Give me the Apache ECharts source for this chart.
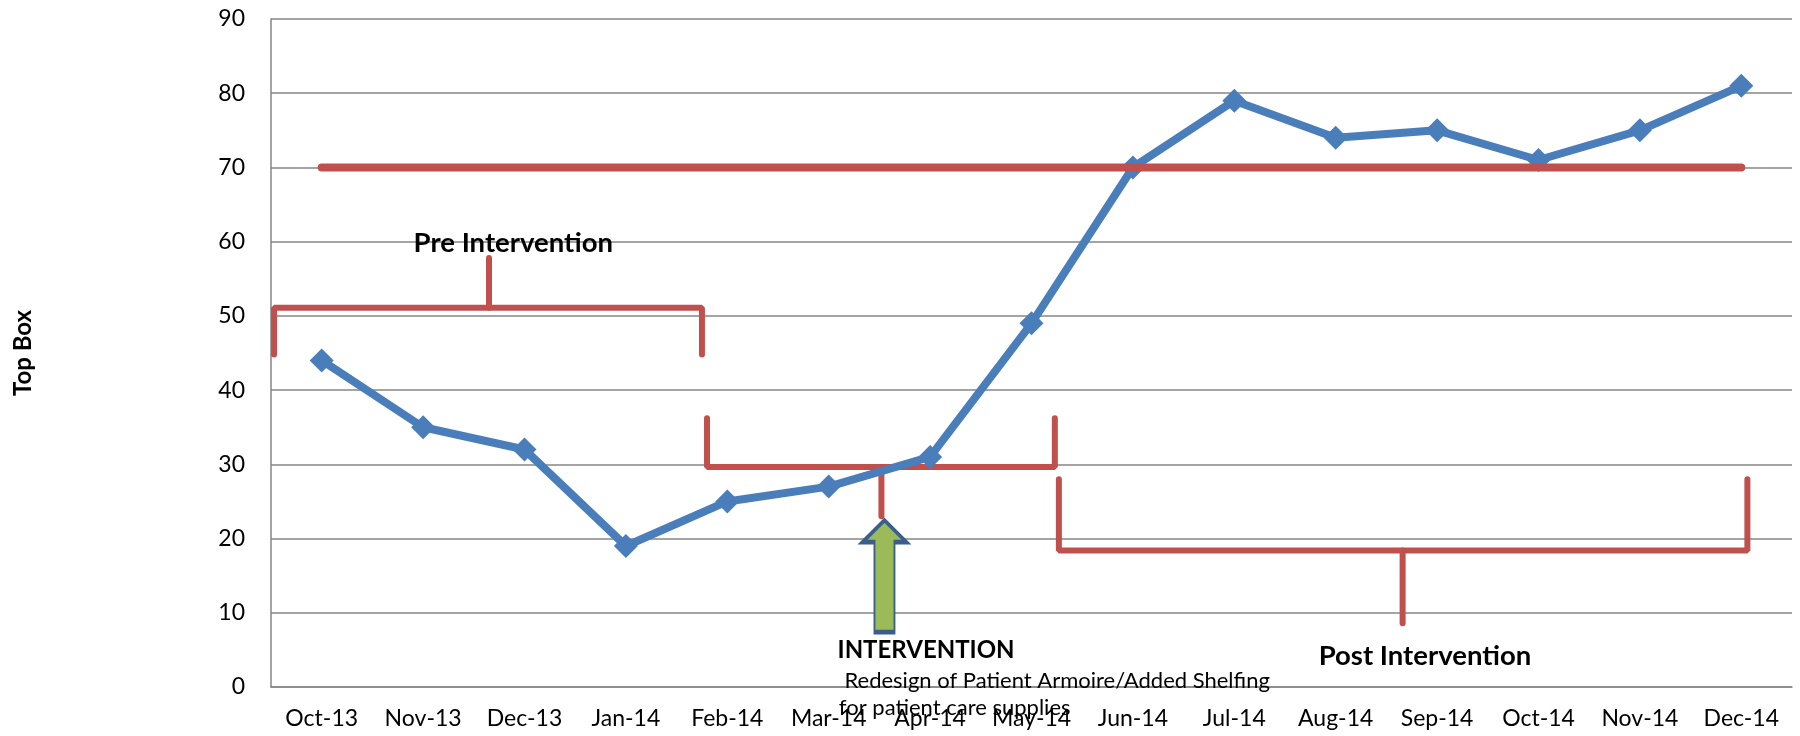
<!DOCTYPE html>
<html>
<head>
<meta charset="utf-8">
<script src="https://cdn.jsdelivr.net/npm/echarts@6/dist/echarts.min.js"></script>
<style>
  html, body { margin: 0; padding: 0; background: #fff; }
  #chart_id { width: 1800px; height: 736px; }
</style>
</head>
<body>
<div id="chart_id"></div>
<script>
// categories + values
const months = ['Oct-13', 'Nov-13', 'Dec-13', 'Jan-14', 'Feb-14', 'Mar-14', 'Apr-14', 'May-14',
  'Jun-14', 'Jul-14', 'Aug-14', 'Sep-14', 'Oct-14', 'Nov-14', 'Dec-14'];
const topBox = [44, 35, 32, 19, 25, 27, 31, 49, 70, 79, 74, 75, 71, 75, 81];
const target = [70, 70, 70, 70, 70, 70, 70, 70, 70, 70, 70, 70, 70, 70, 70];
const yTicks = [0, 10, 20, 30, 40, 50, 60, 70, 80, 90];

// brackets, in data units (x = category index)
const preBracket = [[-0.47, 44.8], [-0.47, 51.1], [3.75, 51.1], [3.75, 44.8]];
const preTick = [[1.65, 51.1], [1.65, 57.8]];
const midBracket = [[3.80, 36.2], [3.80, 29.65], [7.23, 29.65], [7.23, 36.2]];
const midTick = [[5.52, 29.65], [5.52, 23.0]];
const postBracket = [[7.27, 28.0], [7.27, 18.4], [14.06, 18.4], [14.06, 28.0]];
const postTick = [[10.66, 18.4], [10.66, 8.6]];

// intervention arrow
const arrowAt = [5.55, 14.93];

// annotation texts
const notes = [
  { text: 'Pre Intervention', at: [1.89, 59.8], size: 27.5 },
  { text: 'INTERVENTION', at: [5.96, 4.95], size: 24 },
  { text: 'Post Intervention', at: [10.88, 4.14], size: 27.5 },
];
const noteDetail = { text: ' Redesign of Patient Armoire/Added Shelfing\nfor patient care supplies', at: [5.10, 2.6] };

const FONT = 'Lato, "Open Sans", sans-serif';
const RED = '#C0504D';
const BLUE = '#4A7EBB';

const myChart = echarts.init(document.getElementById('chart_id'));

const bracketSeries = (data) => ({
  type: 'line',
  xAxisIndex: 1,
  data: data,
  symbol: 'none',
  silent: true,
  clip: false,
  lineStyle: {
    color: RED,
    width: 6,
    cap: 'round',
  },
  z: 2,
});

const option = {
  animation: false,
  textStyle: { fontFamily: FONT },
  grid: {
    left: 271,
    right: 8,
    top: 19,
    bottom: 49,
  },
  xAxis: [
    {
      type: 'category',
      data: months,
      boundaryGap: true,
      axisLine: { lineStyle: { color: '#868686', width: 1.5 } },
      axisTick: { show: false },
      axisLabel: { color: '#000', fontSize: 23, margin: 20, interval: 0 },
    },
    {
      type: 'value',
      min: -0.5,
      max: 14.5,
      show: false,
    },
  ],
  yAxis: {
    type: 'value',
    min: yTicks[0],
    max: yTicks[yTicks.length - 1],
    interval: 10,
    name: 'Top Box',
    nameLocation: 'middle',
    nameGap: 236,
    nameTextStyle: { color: '#000', fontSize: 24, fontWeight: 'bold' },
    axisLine: { show: true, onZero: false, lineStyle: { color: '#868686', width: 1.5 } },
    axisTick: { show: false },
    axisLabel: { color: '#000', fontSize: 23, margin: 26 },
    splitLine: { lineStyle: { color: '#868686', width: 1.5 } },
  },
  series: [
    bracketSeries(preBracket),
    bracketSeries(preTick),
    bracketSeries(midBracket),
    bracketSeries(midTick),
    bracketSeries(postBracket),
    bracketSeries(postTick),
    {
      name: 'Top Box',
      type: 'line',
      data: topBox,
      symbol: 'diamond',
      symbolSize: 24,
      itemStyle: { color: BLUE },
      lineStyle: { color: BLUE, width: 8 },
      z: 3,
    },
    {
      name: 'Target',
      type: 'line',
      data: target,
      symbol: 'none',
      lineStyle: { color: RED, width: 8, cap: 'round' },
      z: 4,
    },
    {
      // green intervention arrow
      type: 'scatter',
      xAxisIndex: 1,
      data: [arrowAt],
      symbol: 'path://M22,0 L44,22 L32,22 L32,112 L12,112 L12,22 L0,22 Z',
      symbolSize: [44, 112],
      symbolKeepAspect: false,
      itemStyle: { color: '#9BBB59', borderColor: '#3B5E8C', borderWidth: 3, opacity: 1 },
      silent: true,
      z: 5,
    },
    {
      type: 'scatter',
      xAxisIndex: 1,
      symbolSize: 0,
      silent: true,
      clip: false,
      z: 6,
      itemStyle: { opacity: 1 },
      data: notes.map((n) => ({
        value: n.at,
        label: {
          show: true,
          position: 'inside',
          formatter: n.text,
          color: '#000',
          opacity: 1,
          fontWeight: 'bold',
          fontSize: n.size,
          align: 'center',
          verticalAlign: 'middle',
        },
      })).concat([{
        value: noteDetail.at,
        label: {
          show: true,
          position: 'inside',
          formatter: noteDetail.text,
          color: '#000',
          opacity: 1,
          fontSize: 22,
          lineHeight: 27,
          align: 'left',
          verticalAlign: 'top',
        },
      }]),
    },
  ],
};

myChart.setOption(option);
window.onresize = myChart.resize;
</script>
</body>
</html>
